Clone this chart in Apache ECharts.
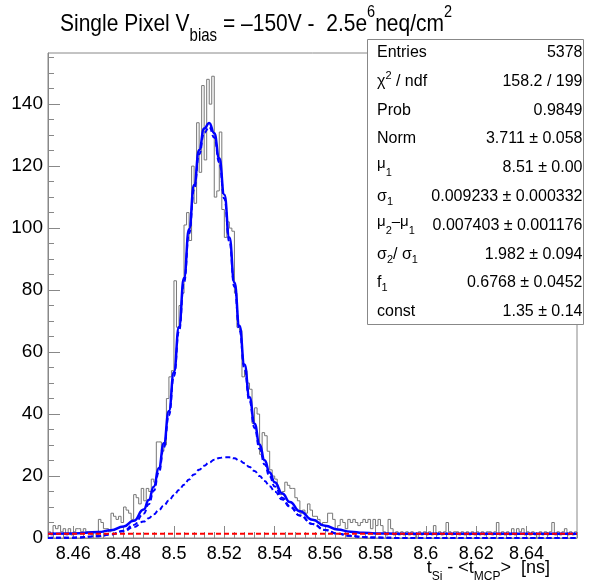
<!DOCTYPE html>
<html>
<head>
<meta charset="utf-8">
<script src="https://cdn.jsdelivr.net/npm/echarts@6/dist/echarts.min.js"></script>
<style>
  html, body { margin: 0; padding: 0; background: #fff; }
  #chart { width: 590px; height: 581px; }
</style>
</head>
<body>
<div id="chart"></div>
<script>
// histogram: 210 bins of 0.001 ns from 8.45 to 8.66
const binLow = 8.45;
const binHigh = 8.66;
const binWidth = 0.001;
const counts = [
  2, 1, 4, 3, 4, 2, 3, 1, 3, 1, 2, 3, 3, 2, 3, 2, 2, 1, 2, 1,
  6, 5, 3, 3, 2, 8, 7, 6, 7, 5, 10, 9, 8, 6, 14, 13, 11, 16, 12, 16,
  15, 19, 18, 31, 31, 28, 30, 45,
  52, 54, 83, 68, 75, 79, 101, 105, 96, 120,
  108, 134, 118, 146, 122, 148, 140, 149, 110, 112,
  131, 106, 97, 102, 100, 99, 79, 68, 67, 52,
  54, 50, 48, 37, 42, 40, 27, 34, 33, 28,
  22, 20, 19, 16, 14, 15, 18, 17, 16, 16,
  13, 12, 8, 9, 8, 11, 9, 7, 7, 6,
  4, 5, 5, 8, 8, 6, 3, 4, 6, 5,
  3, 6, 5, 6, 5, 4, 5, 6, 5, 6,
  3, 6, 4, 6, 4, 2, 1, 6, 3, 1,
  2, 1,
  2, 1, 2, 1, 2, 1, 0, 2, 1, 2,
  1, 2, 1, 4, 1, 2, 1, 2, 5, 2,
  1, 2, 2, 1, 2, 1, 2, 1, 2, 1,
  2, 1, 2, 1, 2, 2, 1, 2, 5, 1,
  2, 1, 2, 1, 3, 1, 3, 2, 3, 1,
  2, 1, 2, 1, 0, 2, 1, 2, 1, 2,
  5, 1, 2, 1, 2, 3, 1, 2, 1, 2
];

// fit curves
const fitX = [8.45, 8.46, 8.47, 8.475, 8.48, 8.484, 8.488, 8.49, 8.492, 8.494, 8.496, 8.498, 8.5, 8.502, 8.504, 8.506, 8.508, 8.51, 8.512, 8.514, 8.516, 8.518, 8.52, 8.522, 8.524, 8.526, 8.528, 8.53, 8.532, 8.534, 8.536, 8.538, 8.54, 8.543, 8.546, 8.55, 8.555, 8.56, 8.565, 8.57, 8.575, 8.58, 8.59, 8.6, 8.66];
const fitTotal = [1.37, 1.46, 1.91, 2.52, 3.71, 5.56, 9.18, 12.27, 16.56, 22.55, 30.55, 40.95, 53.6, 68.1, 83.9, 99.6, 113.9, 125.2, 132.1, 133.95, 130.6, 122.5, 110.8, 97.0, 82.45, 68.45, 55.95, 45.4, 36.9, 30.15, 25.05, 21.1, 17.98, 14.37, 11.58, 8.63, 5.86, 3.95, 2.74, 2.04, 1.67, 1.49, 1.37, 1.35, 1.35];
const fitGaus = [0.02, 0.11, 0.56, 1.17, 2.36, 4.21, 7.83, 10.92, 15.21, 21.2, 29.2, 39.6, 52.25, 66.75, 82.55, 98.25, 112.55, 123.85, 130.75, 132.6, 129.25, 121.15, 109.45, 95.65, 81.1, 67.1, 54.6, 44.05, 35.55, 28.8, 23.7, 19.75, 16.63, 13.02, 10.23, 7.28, 4.51, 2.6, 1.39, 0.69, 0.32, 0.14, 0.02, 0, 0];
const fitGaus2 = [0.015, 0.107, 0.56, 1.15, 2.2, 3.5, 5.29, 6.39, 7.63, 9.0, 10.5, 12.1, 13.76, 15.5, 17.2, 18.9, 20.5, 22.0, 23.3, 24.4, 25.25, 25.8, 26.08, 26.03, 25.7, 25.0, 24.1, 22.9, 21.6, 20.0, 18.4, 16.7, 14.97, 12.4, 10.03, 7.24, 4.51, 2.6, 1.39, 0.69, 0.32, 0.14, 0.02, 0, 0];
const constLevel = 1.35;

const xTicks = [8.46, 8.48, 8.5, 8.52, 8.54, 8.56, 8.58, 8.6, 8.62, 8.64];
const yTicks = [0, 20, 40, 60, 80, 100, 120, 140];
const yMax = 156.5;

const statNames = [
  '{t|Entries}',
  '{t|χ}{sup|2}{t| / ndf}',
  '{t|Prob}',
  '{t|Norm}',
  '{t|\u200b}{mu|μ}{sub|1}',
  '{t|σ}{sub|1}',
  '{t|\u200b}{mu|μ}{sub|2}{mu|–μ}{sub|1}',
  '{t|σ}{sub|2}{t|/ σ}{sub|1}',
  '{t|f}{sub|1}',
  '{t|const}'
];
const statValues = [
  '5378',
  '158.2 / 199',
  '0.9849',
  '3.711 ± 0.058',
  '8.51 ± 0.00',
  '0.009233 ± 0.000332',
  '0.007403 ± 0.001176',
  '1.982 ± 0.094',
  '0.6768 ± 0.0452',
  '1.35 ± 0.14'
];

const font = 'Liberation Sans';
const axisGray = '#888';

const histData = counts.map((c, i) => [+(binLow + i * binWidth).toFixed(3), c]);
histData.push([binHigh, counts[counts.length - 1]]);
const pairs = ys => fitX.map((x, i) => [x, ys[i]]);

// minor ticks every 0.004 on x, every 5 on y
const xMinor = [];
for (let k = 0; k <= 52; k++) {
  const v = +(8.452 + k * 0.004).toFixed(3);
  if (v <= binHigh && !xTicks.some(t => Math.abs(t - v) < 1e-6)) xMinor.push(v);
}
const yMinor = [];
for (let v = 5; v < yMax; v += 5) if (v % 20 !== 0) yMinor.push(v);

const statRich = {
  t: { fontFamily: font, fontSize: 16, lineHeight: 22, fill: '#000' },
  mu: { fontFamily: font, fontSize: 15, lineHeight: 12, verticalAlign: 'top', fill: '#000' },
  sub: { fontFamily: font, fontSize: 11, lineHeight: 12, verticalAlign: 'bottom', fill: '#000' },
  sup: { fontFamily: font, fontSize: 11, lineHeight: 14, verticalAlign: 'top', fill: '#000' }
};

const graphics = [
  {
    type: 'text', x: 60, y: 3.3, scaleY: 1.17, z: 100,
    style: {
      x: 0, y: 0, verticalAlign: 'top',
      text: '{m|Single Pixel V}{sb|bias}{m| = –150V -  2.5e}{sp|6}{m|neq/cm}{sp|2}',
      rich: {
        m: { fontFamily: font, fontSize: 21, lineHeight: 36, fill: '#000' },
        sb: { fontFamily: font, fontSize: 15, lineHeight: 4, verticalAlign: 'bottom', fill: '#000' },
        sp: { fontFamily: font, fontSize: 14.5, lineHeight: 30, verticalAlign: 'top', fill: '#000' }
      }
    }
  },
  {
    type: 'text', z: 100,
    style: {
      x: 550, y: 568, align: 'right', verticalAlign: 'middle',
      text: '{m|t}{sb|Si}{m| - <t}{sb|MCP}{m|>  [ns]}',
      rich: {
        m: { fontFamily: font, fontSize: 18, lineHeight: 30, fill: '#000' },
        sb: { fontFamily: font, fontSize: 12, lineHeight: 2, verticalAlign: 'bottom', fill: '#000' }
      }
    }
  },
  {
    type: 'rect', z: 100,
    shape: { x: 367.5, y: 39.5, width: 216, height: 285 },
    style: { fill: '#fff', stroke: axisGray, lineWidth: 1 }
  }
];
statNames.forEach((name, i) => {
  const y = 52.7 + i * 28.78;
  graphics.push({
    type: 'text', z: 101,
    style: { x: 377, y: y, text: name, rich: statRich, verticalAlign: 'middle', align: 'left' }
  });
  graphics.push({
    type: 'text', z: 101,
    style: {
      x: 582.5, y: y, text: statValues[i], fontFamily: font, fontSize: 16,
      fill: '#000', verticalAlign: 'middle', align: 'right'
    }
  });
});

const chart = echarts.init(document.getElementById('chart'));
chart.setOption({
  animation: false,
  backgroundColor: '#fff',
  grid: { left: 48, right: 13, top: 53, bottom: 43, show: true, borderColor: axisGray, borderWidth: 1 },
  xAxis: [
    {
      type: 'value', min: binLow, max: binHigh,
      axisLine: { show: true, lineStyle: { color: axisGray } },
      axisTick: { show: true, inside: true, length: 12, customValues: xTicks, lineStyle: { color: axisGray } },
      axisLabel: { customValues: xTicks, color: '#000', fontFamily: font, fontSize: 18, margin: 7 },
      splitLine: { show: false }
    },
    {
      type: 'value', min: binLow, max: binHigh, position: 'bottom',
      axisLine: { show: false },
      axisTick: { show: true, inside: true, length: 6, customValues: xMinor, lineStyle: { color: axisGray } },
      axisLabel: { show: false },
      splitLine: { show: false }
    }
  ],
  yAxis: [
    {
      type: 'value', min: 0, max: yMax,
      axisLine: { show: true, lineStyle: { color: axisGray } },
      axisTick: { show: true, inside: true, length: 12, customValues: yTicks, lineStyle: { color: axisGray } },
      axisLabel: { customValues: yTicks, color: '#000', fontFamily: font, fontSize: 19, margin: 5 },
      splitLine: { show: false }
    },
    {
      type: 'value', min: 0, max: yMax, position: 'left',
      axisLine: { show: false },
      axisTick: { show: true, inside: true, length: 6, customValues: yMinor, lineStyle: { color: axisGray } },
      axisLabel: { show: false },
      splitLine: { show: false }
    }
  ],
  series: [
    {
      name: 'hist', type: 'line', step: 'end', data: histData, symbol: 'none',
      lineStyle: { color: '#777', width: 1 }, z: 2
    },
    {
      name: 'gaus2', type: 'line', data: pairs(fitGaus2), symbol: 'none', smooth: true, smoothMonotone: 'x',
      lineStyle: { color: '#0000ff', width: 2, type: [5, 3] }, z: 4
    },
    {
      name: 'gaus', type: 'line', data: pairs(fitGaus), symbol: 'none', smooth: true, smoothMonotone: 'x',
      lineStyle: { color: '#0000ff', width: 2, type: [5, 3] }, z: 4
    },
    {
      name: 'total', type: 'line', data: pairs(fitTotal), symbol: 'none', smooth: true, smoothMonotone: 'x',
      lineStyle: { color: '#0000ff', width: 2.5 }, z: 5
    },
    {
      name: 'const', type: 'line', data: [[binLow, constLevel], [binHigh, constLevel]], symbol: 'none',
      lineStyle: { color: '#ff0000', width: 2, type: [5, 3] }, z: 6
    }
  ],
  graphic: graphics
});
</script>
</body>
</html>
